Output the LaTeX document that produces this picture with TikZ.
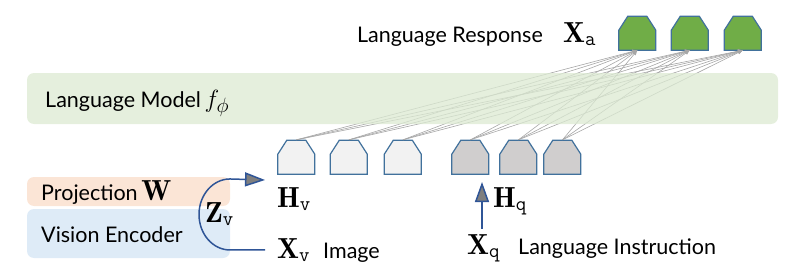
\documentclass[tikz,border=0pt]{standalone}
\usepackage{fontspec}
\setsansfont{Lato}
\usetikzlibrary{arrows.meta}
\definecolor{lmgreen}{RGB}{220,234,210}
\definecolor{projpeach}{HTML}{FBE5D6}
\definecolor{encblue}{HTML}{DEEBF7}
\definecolor{tokedge}{HTML}{41719C}
\definecolor{arcblue}{HTML}{2F5597}
\definecolor{respgreen}{HTML}{70AD47}
\definecolor{imgtok}{HTML}{F2F2F2}
\definecolor{txttok}{HTML}{D0CECE}
\definecolor{attn}{HTML}{A6A6A6}
\definecolor{tipgray}{HTML}{7F7F7F}
\newcommand{\msym}[1]{{\fontsize{29}{31}\selectfont$#1$}}
\newcommand{\tokenat}[3]{%
  \node[tokbox] (#1) at (#2) {};
  \draw[tokedge,line width=1.2pt,fill=#3] (#1.south west) -- ++(0,-20) -- ++(9,-14) -- ++(19,0) -- ++(9,14) -- ++(0,20) -- cycle;}

\begin{document}
\begin{tikzpicture}[x=1pt,y=-1pt,font=\sffamily\fontsize{21.5}{25}\selectfont,
    tokbox/.style={minimum width=37pt,minimum height=34pt,inner sep=0pt},
    panel/.style={rounded corners=7pt},
    attnline/.style={attn,line width=0.6pt,-{Latex[length=5pt,width=4pt]}},
    feed/.style={arcblue,line width=1.5pt,-{Triangle[length=20pt,width=14pt,fill=tipgray]}},
    lbl/.style={inner sep=0pt,anchor=base west}]
  \useasboundingbox (0,0) rectangle (788,273);
  % tokens
  \tokenat{img1}{296.5,157}{imgtok}
  \tokenat{img2}{349,157}{imgtok}
  \tokenat{img3}{403,157}{imgtok}
  \tokenat{ins1}{470.5,157}{txttok}
  \tokenat{ins2}{518.5,157}{txttok}
  \tokenat{ins3}{562.5,157}{txttok}
  \tokenat{res1}{637.5,33}{respgreen}
  \tokenat{res2}{690,33}{respgreen}
  \tokenat{res3}{743,33}{respgreen}
  \foreach \i in {img1,img2,img3,ins1,ins2,ins3}
    \foreach \j in {res1,res2,res3}
      \draw[attnline] (\i.north) -- (\j.south);
  % language model band over the lines
  \fill[lmgreen,fill opacity=0.75,panel] (27,73) rectangle (778,124);
  \node[lbl] (lm) at (45,107) {Language Model\,\msym{f_\phi}};
  \node[inner sep=0pt,anchor=base east] (resp) at (543,42) {Language Response};
  \node[lbl] (xa) at (563,42) {\msym{\mathbf{X}_{\mathtt{a}}}};
  % vision side
  \fill[projpeach,panel] (27,177) rectangle (230,206);
  \fill[encblue,panel] (27,209) rectangle (230,258);
  \node[lbl] (proj) at (41,200) {Projection\,\msym{\mathbf{W}}};
  \node[lbl] (enc) at (41,242) {Vision Encoder};
  \node[lbl] (zv) at (205,222) {\msym{\mathbf{Z}_{\mathtt{v}}}};
  \node[lbl] (hv) at (277,207) {\msym{\mathbf{H}_{\mathtt{v}}}};
  \node[lbl] (xv) at (277,258) {\msym{\mathbf{X}_{\mathtt{v}}}};
  \node[lbl] (img) at (323,258) {Image};
  \coordinate (hvin) at (265,180);
  \draw[feed] ([xshift=-12pt]xv.west) -- ++(-35,0) arc[start angle=90,end angle=270,x radius=31,y radius=35.5] -- (hvin);
  % instruction side
  \node[lbl] (hq) at (493,207) {\msym{\mathbf{H}_{\mathtt{q}}}};
  \node[lbl] (xq) at (467,254) {\msym{\mathbf{X}_{\mathtt{q}}}};
  \node[lbl] (instr) at (518,254) {Language Instruction};
  \coordinate (hqin) at (482,182);
  \draw[feed] (xq.north -| hqin) ++(0,-5) -- (hqin);
\end{tikzpicture}
\end{document}
